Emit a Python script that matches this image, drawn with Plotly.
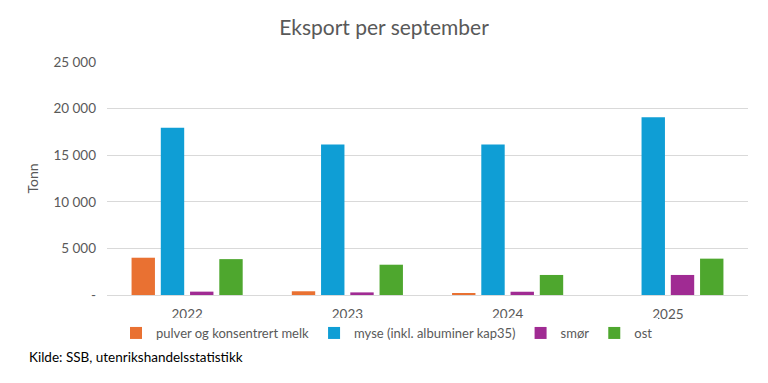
import plotly.graph_objects as go

years = ["2022", "2023", "2024", "2025"]
series_names = ["pulver og konsentrert melk", "myse (inkl. albuminer kap35)", "smør", "ost"]
pulver = [4000, 400, 120, None]
myse = [17950, 16160, 16150, 19060]
smor = [360, 280, 350, 2150]
ost = [3850, 3250, 2150, 3900]
colors = ["#E97132", "#0F9ED5", "#A02B93", "#4EA72E"]
tick_vals = [0, 5000, 10000, 15000, 20000, 25000]
tick_text = ["-", "5 000", "10 000", "15 000", "20 000", "25 000"]

fig = go.Figure()
for name, vals, col in zip(series_names, [pulver, myse, smor, ost], colors):
    fig.add_trace(go.Bar(x=years, y=vals, name=name, marker_color=col, marker_line_width=0))

font = "Lato, 'Open Sans', sans-serif"
W, H = 760, 375
L, R, T, B = 99, 20, 54, 88
pw, ph = W - L - R, H - T - B
fig.update_layout(
    width=W, height=H,
    margin=dict(l=L, r=R, t=T, b=B, autoexpand=False),
    paper_bgcolor="white", plot_bgcolor="white",
    barmode="group", bargap=0.27, bargroupgap=0.2,
    title=dict(text="Eksport per september", x=376 / W, xref="container", xanchor="center",
               y=1 - 20 / H, yref="container", yanchor="middle",
               font=dict(family=font, size=21, color="#595959")),
    font=dict(family=font, size=13, color="#595959"),
    xaxis=dict(showgrid=False, showline=True, linecolor="#D9D9D9", linewidth=1,
               ticks="", ticklabelstandoff=7, tickfont=dict(size=13.5, color="#595959")),
    yaxis=dict(range=[0, 25000], tickvals=tick_vals, ticktext=tick_text,
               showgrid=True, gridcolor="#D9D9D9", gridwidth=1, zeroline=False,
               ticks="", ticklabelstandoff=10, tickfont=dict(size=13.5, color="#595959"),
               title=dict(text="Tonn", font=dict(size=14, color="#595959"), standoff=11)),
    legend=dict(orientation="h", x=(379 - L) / pw, xanchor="center",
                y=-38 / ph, yanchor="middle", font=dict(size=13, color="#595959"),
                itemwidth=30, tracegroupgap=0),
    showlegend=True,
)
fig.add_annotation(text="Kilde: SSB, utenrikshandelsstatistikk", xref="paper", yref="paper",
                   x=(19 - L) / pw, y=(287 - 349) / ph, xanchor="left", yanchor="middle",
                   showarrow=False, font=dict(family=font, size=13.5, color="#000000"))
fig.write_html("out.html")
